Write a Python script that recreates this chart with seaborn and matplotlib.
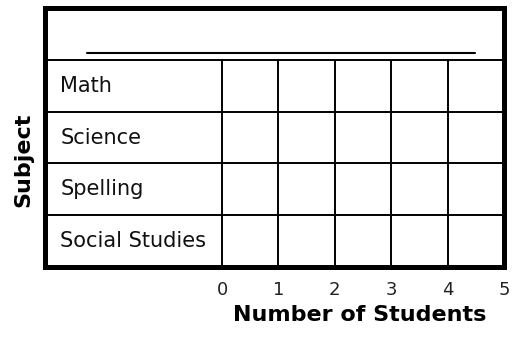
import matplotlib
matplotlib.use("Agg")
import matplotlib.pyplot as plt
import seaborn as sns

# Blank bar graph template: subjects vs number of students (no bars filled in yet)
subjects = ["Math", "Science", "Spelling", "Social Studies"]
students = [0, 0, 0, 0]
ticks = [0, 1, 2, 3, 4, 5]

sns.set_style("white")
plt.rcParams['font.family'] = ['DejaVu Sans']

fig = plt.figure(figsize=(5.12, 3.37), dpi=100)
ax = fig.add_axes([45 / 512, 1 - 267 / 337, (504 - 45) / 512, (267 - 8) / 337])

sns.barplot(x=students, y=subjects, orient="h", color="black", ax=ax)

ax.set_xlim(-3.14, 5)
ax.set_ylim(3.5, -1.5)

# grid of the table
for y in [-0.5, 0.5, 1.5, 2.5]:
    ax.plot([-3.14, 5], [y, y], color="black", lw=1.4, solid_capstyle="butt")
for x in ticks[:-1]:
    ax.plot([x, x], [-0.5, 3.5], color="black", lw=1.4, solid_capstyle="butt")

# blank title line
ax.plot([-2.4, 4.49], [-0.63, -0.63], color="black", lw=1.5)

for i, s in enumerate(subjects):
    ax.text(-2.87, i, s, ha="left", va="center", fontsize=15, color="#111111")

for sp in ax.spines.values():
    sp.set_visible(True)
    sp.set_color("black")
    sp.set_linewidth(3.6)

ax.set_yticks([])
ax.set_xticks(ticks)
ax.set_xticklabels([str(t) for t in ticks], fontsize=13, color="#222222")
ax.tick_params(axis="x", length=0, pad=10)
ax.set_xlabel("")
ax.set_ylabel("")

fig.text(360 / 512, 1 - 315 / 337, "Number of Students", ha="center", va="center",
         fontsize=16, fontweight="bold", color="black")
fig.text(23 / 512, 1 - 160 / 337, "Subject", ha="center", va="center",
         rotation=90, fontsize=16, fontweight="bold", color="black")

plt.savefig("out.png", dpi=100)
